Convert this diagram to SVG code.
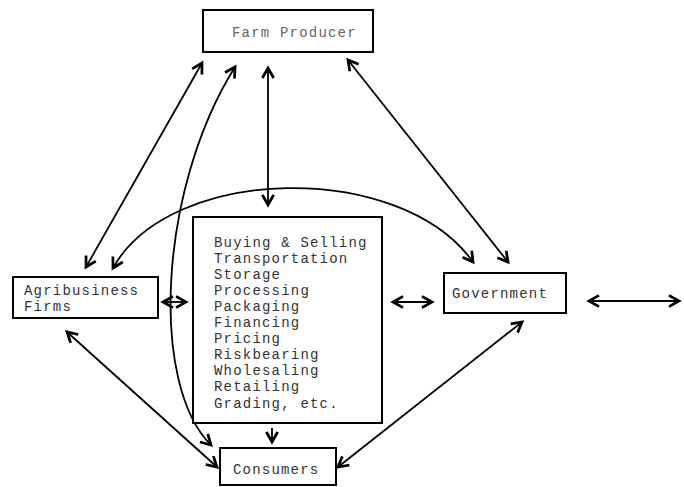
<svg xmlns="http://www.w3.org/2000/svg" width="684" height="487" viewBox="0 0 684 487">
<style>
.box{fill:#fff;stroke:#000;stroke-width:2}
.t{font-family:"Liberation Mono","DejaVu Sans Mono",monospace;font-size:14px;letter-spacing:1.2px;fill:#333}
.c{fill:none;stroke:#000;stroke-width:1.8;marker-start:url(#ah);marker-end:url(#ah)}
.s{fill:none;stroke:#000;stroke-width:1.8;marker-end:url(#ah)}
</style>
<defs>
<marker id="ah" markerUnits="userSpaceOnUse" markerWidth="20" markerHeight="20" refX="0" refY="0" viewBox="-12 -8 16 16" orient="auto-start-reverse" overflow="visible">
<path d="M-8,-4.5 L0,0 L-8,4.5" fill="none" stroke="#000" stroke-width="2.2"/>
</marker>
</defs>
<rect width="684" height="487" fill="#fff"/>
<g id="connectors">
<path class="c" d="M202,63 L86,267"/>
<path class="c" d="M235,67 C158,190 150,385 211,445"/>
<path class="c" d="M268,68 L268,205"/>
<path class="c" d="M348,60 L508,262"/>
<path class="c" d="M113,268 C170,165 400,160 473,262"/>
<path class="c" d="M67,332 L217,467"/>
<path class="c" d="M522,322 L338,467"/>
<path class="c" d="M163,302 L186,302"/>
<path class="c" d="M393,302 L432,302"/>
<path class="c" d="M589,301 L679,301"/>
<path class="s" d="M272,428 L272,442"/>
</g>
<g id="farm-producer">
<rect class="box" x="203" y="10" width="170" height="42"/>
<text class="t" x="232" y="37" style="fill:#666">Farm Producer</text>
</g>
<g id="agribusiness">
<rect class="box" x="13" y="277" width="145" height="41"/>
<text class="t" x="24" y="295">Agribusiness</text>
<text class="t" x="24" y="311">Firms</text>
</g>
<g id="functions">
<rect class="box" x="193" y="217" width="189" height="206"/>
<text class="t" x="214" y="247">Buying &amp; Selling</text>
<text class="t" x="214" y="263">Transportation</text>
<text class="t" x="214" y="279">Storage</text>
<text class="t" x="214" y="295">Processing</text>
<text class="t" x="214" y="311">Packaging</text>
<text class="t" x="214" y="327">Financing</text>
<text class="t" x="214" y="343">Pricing</text>
<text class="t" x="214" y="359">Riskbearing</text>
<text class="t" x="214" y="375">Wholesaling</text>
<text class="t" x="214" y="391">Retailing</text>
<text class="t" x="214" y="408">Grading, etc.</text>
</g>
<g id="government">
<rect class="box" x="444" y="273" width="122" height="40"/>
<text class="t" x="452" y="298">Government</text>
</g>
<g id="consumers">
<rect class="box" x="220" y="448" width="116" height="37"/>
<text class="t" x="233" y="474">Consumers</text>
</g>
</svg>
